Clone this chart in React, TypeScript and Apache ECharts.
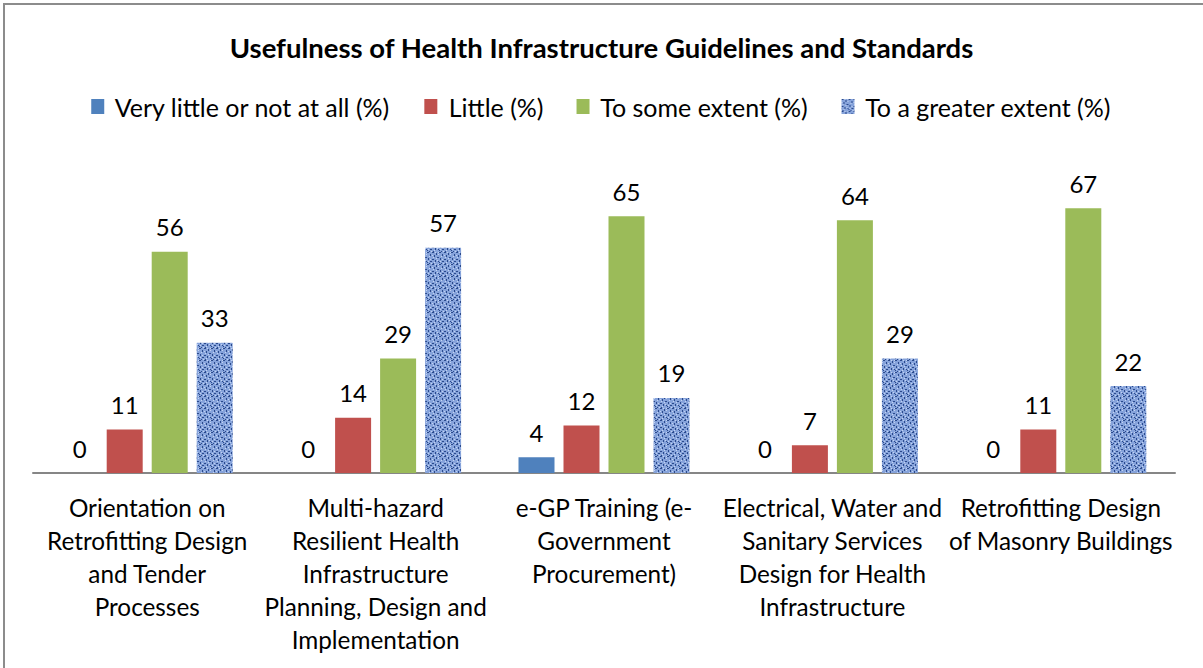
import React, { useEffect, useRef } from "react";
import * as echarts from "echarts";

const title = "Usefulness of Health Infrastructure Guidelines and Standards";
const categories = [
  "Orientation on\nRetrofitting Design\nand Tender\nProcesses",
  "Multi-hazard\nResilient Health\nInfrastructure\nPlanning, Design and\nImplementation",
  "e-GP Training (e-\nGovernment\nProcurement)",
  "Electrical, Water and\nSanitary Services\nDesign for Health\nInfrastructure",
  "Retrofitting Design\nof Masonry Buildings",
];
const seriesNames = [
  "Very little or not at all (%)",
  "Little (%)",
  "To some extent (%)",
  "To a greater extent (%)",
];
const veryLittle = [0, 0, 4, 0, 0];
const little = [11, 14, 12, 7, 11];
const someExtent = [56, 29, 65, 64, 67];
const greaterExtent = [33, 57, 19, 29, 22];

function makePattern(): HTMLCanvasElement {
  const c = document.createElement("canvas");
  c.width = 12;
  c.height = 12;
  const ctx = c.getContext("2d")!;
  ctx.fillStyle = "#86a3db";
  ctx.fillRect(0, 0, 12, 12);
  ctx.fillStyle = "#2b4a8c";
  const dark: number[][] = [
    [0, 0, 2, 1], [4, 1, 1, 2], [7, 0, 2, 1], [10, 2, 1, 2],
    [2, 3, 1, 2], [5, 5, 2, 1], [8, 6, 1, 2], [0, 7, 2, 1],
    [3, 8, 1, 2], [6, 9, 1, 1], [7, 10, 1, 1], [10, 9, 2, 1], [1, 11, 1, 1], [9, 11, 1, 1],
  ];
  dark.forEach(([x, y, w, h]) => ctx.fillRect(x, y, w, h));
  ctx.fillStyle = "#c3d3f0";
  const lights: number[][] = [[3, 0], [6, 2], [9, 4], [1, 5], [4, 6], [10, 7], [5, 8], [2, 10], [8, 9], [11, 11], [6, 0], [0, 3]];
  lights.forEach(([x, y]) => ctx.fillRect(x, y, 1, 1));
  return c;
}

export default function App() {
  const ref = useRef<HTMLDivElement>(null);
  useEffect(() => {
    document.body.style.margin = "0";
    const chart = echarts.init(ref.current!, null, { renderer: "svg" });
    const font = "Lato, 'Open Sans', sans-serif";
    const pattern = makePattern();
    const colors = ["#4f81bd", "#c0504d", "#9bbb59"];
    const datas = [veryLittle, little, someExtent, greaterExtent];
    chart.setOption({
      animation: false,
      backgroundColor: "#ffffff",
      textStyle: { fontFamily: font },
      title: {
        text: title,
        left: "center",
        top: 28,
        textStyle: { fontFamily: font, fontSize: 27.5, fontWeight: "bold", color: "#000" },
      },
      legend: {
        top: 89,
        left: "center",
        itemWidth: 13,
        itemHeight: 15,
        itemGap: 33,
        icon: "rect",
        formatter: (n: string) => " " + n,
        textStyle: { fontFamily: font, fontSize: 25, color: "#000" },
        data: seriesNames,
      },
      grid: { left: 33, right: 28, top: 157, bottom: 195 },
      xAxis: {
        type: "category",
        data: categories,
        axisLine: { lineStyle: { color: "#868686", width: 2 } },
        axisTick: { show: false },
        axisLabel: {
          interval: 0,
          color: "#000",
          fontSize: 24.3,
          lineHeight: 33,
          margin: 18,
          fontFamily: font,
        },
      },
      yAxis: {
        type: "value",
        min: 0,
        max: 80,
        show: false,
        splitLine: { show: false },
      },
      series: datas.map((d, i) => ({
        name: seriesNames[i],
        type: "bar",
        data: d,
        barWidth: 36,
        barGap: "25%",
        itemStyle: {
          color: i < 3 ? colors[i] : { image: pattern, repeat: "repeat" },
        },
        label: {
          show: true,
          position: "top",
          distance: 13,
          fontSize: 24,
          color: "#000",
          fontFamily: font,
        },
      })),
      graphic: [
        {
          type: "rect",
          shape: { x: 4, y: 4, width: 1300, height: 800 },
          style: { fill: "none", stroke: "#8c8c8c", lineWidth: 2 },
          silent: true,
        },
      ],
    });
    return () => chart.dispose();
  }, []);
  return <div ref={ref} style={{ width: 1203, height: 668 }} />;
}
